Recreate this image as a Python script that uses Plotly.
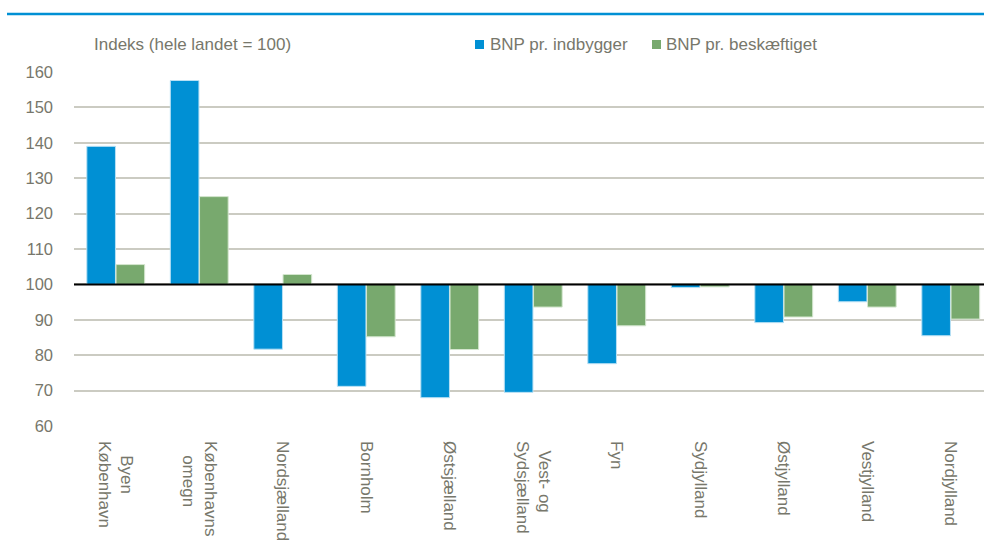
import plotly.graph_objects as go

categories = ["Byen<br>København", "Københavns<br>omegn", "Nordsjælland", "Bornholm", "Østsjælland",
              "Vest- og<br>Sydsjælland", "Fyn", "Sydjylland", "Østjylland", "Vestjylland", "Nordjylland"]
bnp_indbygger = [139.0, 157.6, 81.7, 71.2, 68.0, 69.5, 77.6, 99.1, 89.2, 95.1, 85.5]
bnp_beskaeftiget = [105.6, 124.8, 102.8, 85.2, 81.6, 93.6, 88.3, 99.3, 90.8, 93.6, 90.2]
y_ticks = [60, 70, 80, 90, 100, 110, 120, 130, 140, 150, 160]
series_names = ["BNP pr. indbygger", "BNP pr. beskæftiget"]

FONT = "Liberation Sans, Arial, sans-serif"
GREY = "#77776b"
BLUE = "#0090d4"
GREEN = "#78a96e"

W, H = 984, 543
L, T = 74, 72
PW, PH = W - L, 354
B = H - T - PH
CAT_W = 83.5  # pixel width of one category slot (plot runs past the right edge)


def px(x):
    return (x - L) / PW


def py(y):
    return 1 + (T - y) / PH


def centered(label):
    # rotated multi-line tick labels are start-anchored; pad shorter lines to centre them
    lines = label.split("<br>")
    if len(lines) == 1:
        return label
    longest = max(len(s) for s in lines)
    return "<br>".join("\u00a0" * round((longest - len(s)) * 0.5 * 1.05) + s for s in lines)


tick_text = [centered(c) for c in categories]

fig = go.Figure()
fig.add_bar(x=categories, y=[v - 100 for v in bnp_indbygger], base=100,
            name=series_names[0], marker=dict(color=BLUE, line=dict(color="#b8e0f4", width=1)))
fig.add_bar(x=categories, y=[v - 100 for v in bnp_beskaeftiget], base=100,
            name=series_names[1], marker=dict(color=GREEN, line=dict(color="#d4e6cf", width=1)))

fig.update_layout(
    width=W, height=H,
    margin=dict(l=L, r=0, t=T, b=B, autoexpand=False),
    paper_bgcolor="white", plot_bgcolor="white",
    barmode="group", bargap=0.30, bargroupgap=0.02,
    font=dict(family=FONT, color=GREY, size=17),
    showlegend=False,
    xaxis=dict(tickangle=90, showgrid=False, showline=False, ticks="", automargin=False,
               range=[-0.5, -0.5 + PW / CAT_W], tickvals=categories, ticktext=tick_text,
               tickfont=dict(size=17, color=GREY), ticklabelstandoff=14),
    yaxis=dict(range=[60, 160], tickvals=y_ticks, showgrid=True, gridcolor="#cbcbc2",
               gridwidth=1.5, zeroline=False, showline=False, ticks="", automargin=False,
               tickfont=dict(size=16.5, color=GREY), ticklabelstandoff=20),
)

# baseline at 100
fig.add_shape(type="line", xref="paper", yref="y", x0=0, x1=1, y0=100, y1=100,
              line=dict(color="black", width=2), layer="above")
# top rule
fig.add_shape(type="line", xref="paper", yref="paper", x0=px(7), x1=1, y0=py(14), y1=py(14),
              line=dict(color=BLUE, width=2.5))
# axis caption
fig.add_annotation(text="Indeks (hele landet = 100)", xref="paper", yref="paper",
                   x=px(92), y=py(45), xanchor="left", yanchor="middle",
                   showarrow=False, font=dict(size=17, color=GREY))
# legend
for name, color, sq_x, txt_x in [(series_names[0], BLUE, 475, 488), (series_names[1], GREEN, 652, 664)]:
    fig.add_shape(type="rect", xref="paper", yref="paper",
                  x0=px(sq_x), x1=px(sq_x + 9), y0=py(40), y1=py(49),
                  fillcolor=color, line=dict(width=0))
    fig.add_annotation(text=name, xref="paper", yref="paper", x=px(txt_x), y=py(45),
                       xanchor="left", yanchor="middle", showarrow=False,
                       font=dict(size=17, color=GREY))

fig.write_html("out.html", config={"displayModeBar": False},
               post_script="document.body.style.margin='0';document.body.style.overflow='hidden';")
